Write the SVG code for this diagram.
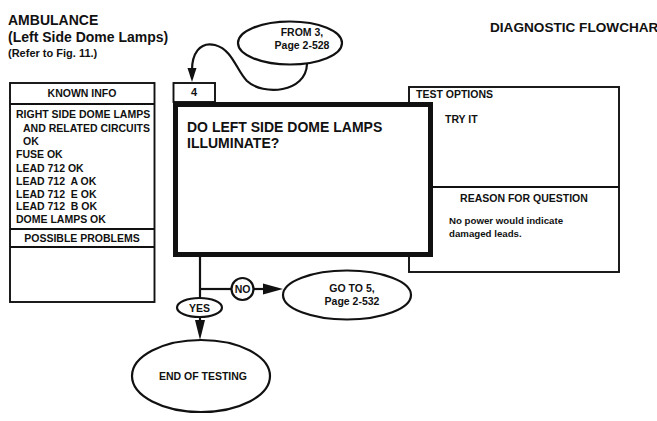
<svg xmlns="http://www.w3.org/2000/svg" width="657" height="421" viewBox="0 0 657 421">
<style>
text{font-family:"Liberation Sans",Arial,sans-serif;font-weight:bold;fill:#111}
.box{fill:#fff;stroke:#111;stroke-width:1.9}
.thick{fill:#fff;stroke:#111;stroke-width:5}
.line{fill:none;stroke:#111;stroke-width:2.2}
.ell{fill:#fff;stroke:#111;stroke-width:2.2}
.s105{font-size:10.5px}
.s11{font-size:11px}
.s14{font-size:14px}
.c{text-anchor:middle}
</style>
<rect width="657" height="421" fill="#fff"/>
<g id="title">
<text x="8" y="25" class="s14">AMBULANCE</text>
<text x="8" y="42" class="s14">(Left Side Dome Lamps)</text>
<text x="8" y="57" class="s11">(Refer to Fig. 11.)</text>
<text x="490" y="32" style="font-size:13.6px">DIAGNOSTIC FLOWCHAR</text>
</g>
<g id="known-info">
<rect x="10" y="83" width="144.5" height="219" class="box"/>
<line x1="10" y1="104" x2="154.5" y2="104" class="box"/>
<line x1="10" y1="229" x2="154.5" y2="229" class="box"/>
<line x1="10" y1="247" x2="154.5" y2="247" class="box"/>
<text x="82" y="97" class="s105 c">KNOWN INFO</text>
<text x="16" y="118" class="s105">RIGHT SIDE DOME LAMPS</text>
<text x="23" y="131.5" class="s105">AND RELATED CIRCUITS</text>
<text x="23" y="145" class="s105">OK</text>
<text x="16" y="158" class="s105">FUSE OK</text>
<text x="16" y="171.5" class="s105">LEAD 712 OK</text>
<text x="16" y="184.5" class="s105" xml:space="preserve">LEAD 712  A OK</text>
<text x="16" y="197.5" class="s105" xml:space="preserve">LEAD 712  E OK</text>
<text x="16" y="210" class="s105" xml:space="preserve">LEAD 712  B OK</text>
<text x="16" y="223" class="s105">DOME LAMPS OK</text>
<text x="82" y="242" class="s105 c">POSSIBLE PROBLEMS</text>
</g>
<g id="test-options">
<rect x="409" y="87" width="210" height="185" class="box"/>
<line x1="430" y1="187" x2="619" y2="187" class="box"/>
<text x="416" y="98" class="s105">TEST OPTIONS</text>
<text x="445" y="123" class="s105">TRY IT</text>
<text x="524" y="202" class="s105 c">REASON FOR QUESTION</text>
<text x="449" y="224" style="font-size:9.7px">No power would indicate</text>
<text x="449" y="237" style="font-size:9.7px">damaged leads.</text>
</g>
<g id="step-4">
<rect x="173.5" y="83" width="41.5" height="19" class="box"/>
<text x="194" y="96" class="s11 c">4</text>
</g>
<g id="question">
<rect x="175.5" y="104.5" width="255" height="150" class="thick"/>
<text x="187" y="132" class="s14">DO LEFT SIDE DOME LAMPS</text>
<text x="187" y="148" class="s14">ILLUMINATE?</text>
</g>
<g id="connectors">
<path d="M307,64 C306,93 263,96 247,81 C236,70 233,50 215,45 C199,41 192,55 192,70" class="line"/>
<polygon points="192,82 187.5,68 196.5,68" fill="#111"/>
<line x1="200" y1="257" x2="200" y2="298" class="line"/>
<line x1="200" y1="289" x2="232" y2="289" class="line"/>
<line x1="253" y1="289" x2="268" y2="289" class="line"/>
<polygon points="283,289 263,283.5 263,294.5" fill="#111"/>
<line x1="200" y1="317" x2="200" y2="324" class="line"/>
<polygon points="200,340 195,320 205,320" fill="#111"/>
</g>
<g id="from-3">
<ellipse cx="290" cy="43" rx="52" ry="21.5" class="ell"/>
<text x="302" y="36" class="s105 c">FROM 3,</text>
<text x="302" y="49" class="s105 c">Page 2-528</text>
</g>
<g id="no-label">
<circle cx="242.5" cy="289" r="11" class="ell"/>
<text x="242.5" y="293" class="s105 c">NO</text>
</g>
<g id="goto-5">
<ellipse cx="347" cy="295" rx="64" ry="24.5" class="ell"/>
<text x="352" y="292" class="s105 c">GO TO 5,</text>
<text x="352" y="305" class="s105 c">Page 2-532</text>
</g>
<g id="yes-label">
<ellipse cx="199.5" cy="307.5" rx="22.5" ry="9.5" class="ell"/>
<text x="199.5" y="311.5" class="s105 c">YES</text>
</g>
<g id="end">
<ellipse cx="201" cy="376" rx="69" ry="36" class="ell"/>
<text x="203" y="380" class="s105 c">END OF TESTING</text>
</g>
</svg>
